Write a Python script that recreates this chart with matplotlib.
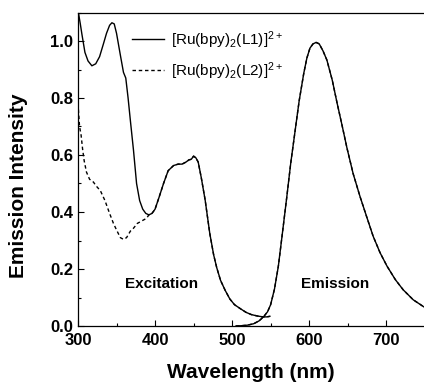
import numpy as np
import matplotlib
matplotlib.use("Agg")
import matplotlib.pyplot as plt
from matplotlib.ticker import MultipleLocator

plt.rcParams['font.family'] = ['Liberation Sans', 'DejaVu Sans']
plt.rcParams['mathtext.fontset'] = 'custom'
plt.rcParams['mathtext.rm'] = 'Liberation Sans'
plt.rcParams['mathtext.it'] = 'Liberation Sans'

# Excitation spectrum, [Ru(bpy)2(L1)]2+
ex1_x = [300.5, 303, 305, 309, 313, 318, 323, 328, 333, 337, 341, 344, 347, 350,
         355, 359, 362, 365, 368, 372, 376, 380, 384, 388, 392, 396, 400, 405, 411,
         417, 424, 430, 435, 440, 444, 447, 450, 453, 456, 460, 465, 471, 476, 480,
         485, 491, 497, 503, 510, 518, 525, 533, 540, 545, 549]
ex1_y = [1.10, 1.06, 1.025, 0.96, 0.93, 0.913, 0.92, 0.945, 0.99, 1.027, 1.055, 1.064,
         1.06, 1.027, 0.95, 0.89, 0.87, 0.80, 0.72, 0.617, 0.50, 0.44, 0.41, 0.395,
         0.39, 0.395, 0.41, 0.45, 0.50, 0.545, 0.563, 0.568, 0.568, 0.575, 0.583,
         0.585, 0.596, 0.59, 0.575, 0.52, 0.442, 0.325, 0.25, 0.205, 0.16, 0.125,
         0.095, 0.075, 0.062, 0.048, 0.04, 0.035, 0.032, 0.032, 0.034]

# Excitation spectrum, [Ru(bpy)2(L2)]2+ (below 392 nm; coincides with L1 above)
ex2_x_low = [300.5, 302, 304, 306, 308, 311, 315, 320, 324, 329, 335, 341, 346, 350,
             355, 359, 363, 368, 372, 377, 385, 389]
ex2_y_low = [0.76, 0.70, 0.67, 0.62, 0.58, 0.54, 0.515, 0.505, 0.49, 0.475, 0.44,
             0.395, 0.36, 0.337, 0.31, 0.304, 0.31, 0.333, 0.343, 0.36, 0.372, 0.378]

# Emission spectrum (both complexes)
em_x = [505, 512, 520, 528, 535, 541, 546, 550, 555, 560, 565, 571, 576, 582, 587,
        593, 597, 601, 605, 609, 613, 618, 623, 630, 636, 643, 649, 657, 666, 675,
        683, 692, 701, 712, 722, 735, 750]
em_y = [0.0, 0.001, 0.003, 0.008, 0.018, 0.033, 0.05, 0.075, 0.13, 0.21, 0.32, 0.454,
        0.57, 0.69, 0.79, 0.887, 0.94, 0.975, 0.99, 0.995, 0.99, 0.965, 0.933, 0.862,
        0.785, 0.70, 0.625, 0.535, 0.454, 0.38, 0.315, 0.257, 0.21, 0.162, 0.127,
        0.092, 0.065]

labels = [r'[Ru(bpy)$_2$(L1)]$^{2+}$', r'[Ru(bpy)$_2$(L2)]$^{2+}$']
x_ticks = [300, 400, 500, 600, 700]
y_ticks = [0.0, 0.2, 0.4, 0.6, 0.8, 1.0]

ex1_x = np.array(ex1_x); ex1_y = np.array(ex1_y)
mask = ex1_x >= 392
ex2_x = np.concatenate([ex2_x_low, ex1_x[mask]])
ex2_y = np.concatenate([ex2_y_low, ex1_y[mask]])

fig = plt.figure(figsize=(4.24, 3.82), dpi=100)
ax = fig.add_axes([78/424, 1-326/382, 1-78/424, (326-12.5)/382])

lw = 1.0
l1, = ax.plot(ex1_x, ex1_y, color='black', lw=lw, label=labels[0])
ax.plot(em_x, em_y, color='black', lw=lw)
l2, = ax.plot(ex2_x, ex2_y, color='black', lw=lw, ls=(0, (2.5, 2.0)), label=labels[1])
ax.plot(em_x, em_y, color='black', lw=lw, ls=(0, (2.5, 2.0)))

ax.set_xlim(300, 749)
ax.set_ylim(0, 1.1)
ax.set_xticks(x_ticks)
ax.set_yticks(y_ticks)
ax.set_xticklabels([str(v) for v in x_ticks])
ax.set_yticklabels([f'{v:.1f}' for v in y_ticks])
ax.xaxis.set_minor_locator(MultipleLocator(50))
ax.yaxis.set_minor_locator(MultipleLocator(0.1))
ax.tick_params(which='both', direction='in', top=False, right=False)
ax.tick_params(which='major', length=4, width=0.8, labelsize=12)
ax.tick_params(axis='x', which='major', pad=5)
ax.tick_params(axis='y', which='major', pad=3.5)
ax.tick_params(which='minor', length=2.5, width=0.8)
for lab in ax.get_xticklabels() + ax.get_yticklabels():
    lab.set_fontweight('bold')
ax.spines['right'].set_visible(False)
for s in ['left', 'bottom', 'top']:
    ax.spines[s].set_linewidth(0.9)

ax.set_xlabel('Wavelength (nm)', fontsize=15, fontweight='bold', labelpad=11)
ax.set_ylabel('Emission Intensity', fontsize=15, fontweight='bold')
ax.yaxis.set_label_coords(-0.145, 0.447)

ax.text(409, 0.147, 'Excitation', fontsize=11, fontweight='bold', ha='center', va='center')
ax.text(634, 0.147, 'Emission', fontsize=11, fontweight='bold', ha='center', va='center')

ax.legend(handles=[l1, l2], loc='upper left', bbox_to_anchor=(0.155, 0.947),
          frameon=False, fontsize=11, handlelength=2.1, handletextpad=0.45,
          labelspacing=0.62, borderpad=0, borderaxespad=0)

fig.savefig('out.png', dpi=100)
